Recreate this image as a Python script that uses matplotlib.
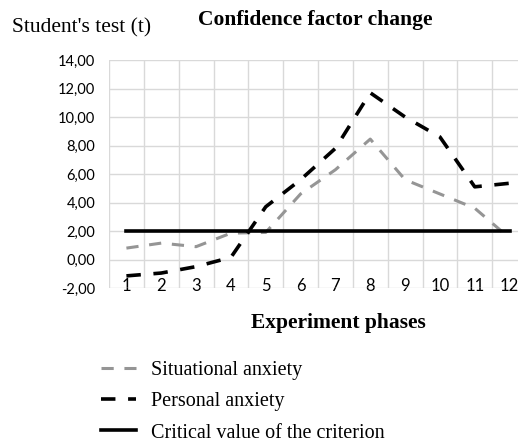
import matplotlib.pyplot as plt
from matplotlib.lines import Line2D
from matplotlib.ticker import FuncFormatter

phases = list(range(1, 13))
situational = [0.8, 1.15, 0.9, 1.85, 1.9, 4.6, 6.3, 8.45, 5.6, 4.6, 3.6, 1.5]
personal = [-1.15, -0.95, -0.5, 0.15, 3.7, 5.6, 7.8, 11.7, 10.0, 8.6, 5.1, 5.35]
critical = [2.0] * 12

yticks = list(range(-2, 15, 2))

serif = "Liberation Serif"
tick_font = "Lato"

fig = plt.figure(figsize=(5.18, 4.43), dpi=100)
W, H = 518, 443
# plot area in pixels: left 109, right 527 (cut off by the image), top 60, bottom 288
ax = fig.add_axes([109 / W, 1 - 288 / H, (527 - 109) / W, (288 - 60) / H])

gray = "#959595"
ax.plot(phases, situational, color=gray, lw=2.2, dashes=(4, 3.5))
ax.plot(phases, personal, color="black", lw=2.6, dashes=(4, 3.5))
ax.plot(phases, critical, color="black", lw=2.6)

ax.set_xlim(0.5, 12.5)
ax.set_ylim(-2, 14)
ax.set_yticks(yticks)
ax.yaxis.set_major_formatter(FuncFormatter(lambda v, p: f"{v:.2f}".replace(".", ",")))
ax.set_xticks(phases)
ax.set_xticks([x + 0.5 for x in range(0, 13)], minor=True)
ax.grid(True, which="minor", axis="x", color="#d9d9d9", lw=1)
ax.grid(True, which="major", axis="y", color="#d9d9d9", lw=1)
for s in ax.spines.values():
    s.set_visible(False)
ax.tick_params(axis="both", which="both", length=0)
ax.tick_params(axis="y", labelsize=10.5, pad=10)
ax.tick_params(axis="x", labelsize=12, pad=-7)
for lbl in ax.get_yticklabels() + ax.get_xticklabels():
    lbl.set_fontfamily(tick_font)
ax.set_axisbelow(True)

fig.text(12 / W, 1 - 28 / H, "Student's test (t)", family=serif, fontsize=15.5, va="center")
fig.text(315 / W, 1 - 20 / H, "Confidence factor change", family=serif, fontsize=15.5,
         fontweight="bold", va="center", ha="center")
fig.text(338 / W, 1 - 323 / H, "Experiment phases", family=serif, fontsize=15.5,
         fontweight="bold", va="center", ha="center")

handles = [
    Line2D([], [], color=gray, lw=2.2, dashes=(4, 3.5)),
    Line2D([], [], color="black", lw=2.6, dashes=(4, 3.5)),
    Line2D([], [], color="black", lw=2.6),
]
labels = ["Situational anxiety", "Personal anxiety", "Critical value of the criterion"]
fig.legend(handles, labels, loc="upper left", bbox_to_anchor=(93 / W, 1 - 353 / H),
           frameon=False, prop={"family": serif, "size": 14.5}, handlelength=1.75,
           handletextpad=0.75, labelspacing=0.6, borderaxespad=0)

fig.savefig("out.png", dpi=100)
